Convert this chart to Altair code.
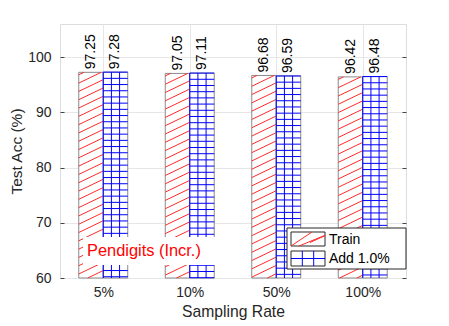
import altair as alt
import pandas as pd

# ---- data ----
categories = ["5%", "10%", "50%", "100%"]
series = ["Train", "Add 1.0%"]
train_vals = [97.25, 97.05, 96.68, 96.42]
add_vals = [97.28, 97.11, 96.59, 96.48]
y_ticks = [60, 70, 80, 90, 100]
y_min, y_max = 60, 106
annotation = "Pendigits (Incr.)"
x_title = "Sampling Rate"
y_title = "Test Acc (%)"

# ---- style / layout ----
W, H = 346, 254
FONT = "Liberation Sans"
TXT = "#262626"
RED = "#ff2a2a"
BLUE = "#0000ff"
BW = 0.2832                      # bar width in category units
PX_X = W / len(categories)       # px per category unit
PX_Y = H / (y_max - y_min)       # px per y unit
HATCH_SLOPE = 0.48               # px rise per px run of the red hatch
HATCH_GAP = 8.3 / PX_Y           # vertical gap of hatch lines (y units)
GRID_GAP = 6.2 / PX_Y            # gap of blue grid rows (y units)

# bars table built from the arrays
bars = []
for i, (c, t, a) in enumerate(zip(categories, train_vals, add_vals)):
    bars.append({"rate": c, "series": series[0], "acc": t, "x0": i - BW, "x1": i, "label": f"{t:.2f}"})
    bars.append({"rate": c, "series": series[1], "acc": a, "x0": i, "x1": i + BW, "label": f"{a:.2f}"})
bars = pd.DataFrame(bars)
bars["xc"] = (bars.x0 + bars.x1) / 2

# hatch segments derived from each bar's extent (decoration)
rise = HATCH_SLOPE * BW * PX_X / PX_Y
hatch = []
for _, b in bars[bars.series == series[0]].iterrows():
    yl = b.acc - HATCH_GAP * 0.3
    while yl > y_min - rise:
        t0 = max(0.0, (y_min - yl) / rise)
        t1 = min(1.0, (b.acc - yl) / rise)
        if t1 > t0:
            hatch.append({"x": b.x0 + t0 * BW, "x2": b.x0 + t1 * BW,
                          "y": yl + t0 * rise, "y2": yl + t1 * rise})
        yl -= HATCH_GAP
hatch = pd.DataFrame(hatch)

hrows, vcols = [], []
for _, b in bars[bars.series == series[1]].iterrows():
    y = b.acc
    while y > y_min:
        hrows.append({"x": b.x0, "x2": b.x1, "y": y})
        y -= GRID_GAP
    for f in (0.0, 1 / 3, 2 / 3):
        vcols.append({"x": b.x0 + f * BW, "y": y_min, "y2": b.acc})
hrows = pd.DataFrame(hrows)
vcols = pd.DataFrame(vcols)

xscale = alt.Scale(domain=[-0.5, len(categories) - 0.5], nice=False, zero=False)
yscale = alt.Scale(domain=[y_min, y_max], zero=False, nice=False)

label_expr = "[" + ",".join(f"'{c}'" for c in categories) + "][datum.value]"
x_axis = alt.Axis(
    title=x_title, values=list(range(len(categories))), labelExpr=label_expr,
    labelAngle=0, ticks=False, domain=False, grid=True,
    labelPadding=7, titlePadding=5,
    labelFontSize=14, titleFontSize=15.7, labelFont=FONT, titleFont=FONT,
    labelColor=TXT, titleColor=TXT, titleFontWeight="normal",
    gridColor="#e6e6e6",
)
y_axis = alt.Axis(
    values=y_ticks, title=y_title, ticks=False, domain=False, grid=True,
    gridColor="#e6e6e6", labelPadding=9, titlePadding=3,
    labelFontSize=14, titleFontSize=15.5, labelFont=FONT, titleFont=FONT,
    labelColor=TXT, titleColor=TXT, titleFontWeight="normal",
)
tick_right = alt.Axis(orient="right", offset=-W, values=y_ticks, labels=False, ticks=True,
                      tickSize=4, tickColor="#444", grid=False, title=None, domain=False)
tick_left = alt.Axis(orient="left", offset=-W, values=y_ticks, labels=False, ticks=True,
                     tickSize=4, tickColor="#444", grid=False, title=None, domain=False)


def X(f):
    return alt.X(f, type="quantitative", scale=xscale, axis=x_axis)


def Y(f, axis=None):
    return alt.Y(f, type="quantitative", scale=yscale, axis=axis)


bar_train = alt.Chart(bars[bars.series == series[0]]).mark_rect(
    fill="white", stroke="#8a8a8a", strokeWidth=1
).encode(x=X("x0"), x2="x1", y=Y("acc", y_axis), y2=alt.datum(y_min))

hatch_lines = alt.Chart(hatch).mark_rule(color=RED, strokeWidth=1).encode(
    x=X("x"), x2="x2", y=Y("y"), y2="y2"
)

bar_add = alt.Chart(bars[bars.series == series[1]]).mark_rect(
    fill="white", stroke="#8a8a8a", strokeWidth=1
).encode(x=X("x0"), x2="x1", y=Y("acc", tick_right), y2=alt.datum(y_min))

grid_rows = alt.Chart(hrows).mark_rule(color=BLUE, strokeWidth=1).encode(
    x=X("x"), x2="x2", y=Y("y")
)
grid_cols = alt.Chart(vcols).mark_rule(color=BLUE, strokeWidth=1).encode(
    x=X("x"), y=Y("y"), y2="y2"
)

labels = alt.Chart(bars).mark_text(
    angle=270, align="left", baseline="middle", dx=3,
    font=FONT, fontSize=14, color="black",
).encode(x=X("xc"), y=Y("acc", tick_left), text="label:N")

one = pd.DataFrame({"k": [0]})
note_box = alt.Chart(one).mark_rect(fill="white").encode(
    x=alt.value(23), x2=alt.value(157), y=alt.value(213), y2=alt.value(241)
)
note = alt.Chart(pd.DataFrame({"t": [annotation]})).mark_text(
    align="left", baseline="middle", font=FONT, fontSize=16.4, color="#ff0000"
).encode(x=alt.value(27), y=alt.value(227), text="t:N")

leg_box = alt.Chart(one).mark_rect(fill="white", stroke="#262626", strokeWidth=1).encode(
    x=alt.value(227), x2=alt.value(346), y=alt.value(204), y2=alt.value(245)
)
leg_p1 = alt.Chart(one).mark_rect(fill="white", stroke="#262626", strokeWidth=1).encode(
    x=alt.value(231), x2=alt.value(265), y=alt.value(208), y2=alt.value(222)
)
leg_hatch = alt.Chart(pd.DataFrame({"x": [231, 239, 250], "x2": [252, 265, 265],
                                    "y": [222, 222, 218.5], "y2": [208, 211.3, 211.7]})
                      ).mark_rule(color=RED, strokeWidth=1).encode(
    x=alt.X("x:Q", scale=None), x2="x2", y=alt.Y("y:Q", scale=None), y2="y2"
)
leg_p2 = alt.Chart(one).mark_rect(fill="white", stroke="#262626", strokeWidth=1).encode(
    x=alt.value(231), x2=alt.value(265), y=alt.value(227), y2=alt.value(242)
)
leg_grid_h = alt.Chart(one).mark_rule(color=BLUE, strokeWidth=1).encode(
    x=alt.value(231), x2=alt.value(265), y=alt.value(234.5)
)
leg_grid_v = alt.Chart(pd.DataFrame({"x": [242.3, 253.7]})).mark_rule(color=BLUE, strokeWidth=1).encode(
    x=alt.X("x:Q", scale=None), y=alt.value(227), y2=alt.value(242)
)
leg_t1 = alt.Chart(pd.DataFrame({"s": [series[0]]})).mark_text(
    align="left", baseline="middle", font=FONT, fontSize=14, color="black"
).encode(x=alt.value(269), y=alt.value(216), text="s:N")
leg_t2 = alt.Chart(pd.DataFrame({"s": [series[1]]})).mark_text(
    align="left", baseline="middle", font=FONT, fontSize=14, color="black"
).encode(x=alt.value(269), y=alt.value(234.5), text="s:N")

chart = alt.layer(
    bar_train, hatch_lines, bar_add, grid_rows, grid_cols, labels, note_box, note,
    leg_box, leg_p1, leg_hatch, leg_p2, leg_grid_h, leg_grid_v, leg_t1, leg_t2,
).resolve_scale(y="independent").properties(
    width=W, height=H,
    autosize=alt.AutoSizeParams(type="none"),
    padding={"left": 52, "top": 16, "right": 35, "bottom": 44},
).configure_view(stroke="#444", strokeWidth=1).configure(background="white")

chart.save("out.html", embed_options={"renderer": "svg", "actions": False})
